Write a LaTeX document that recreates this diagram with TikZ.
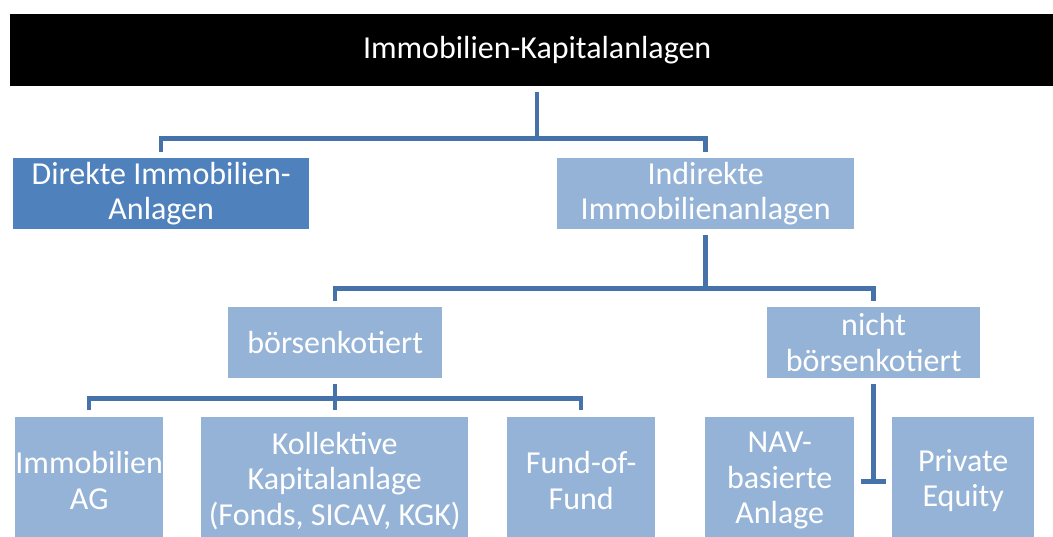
\documentclass[tikz,border=0pt]{standalone}
\usepackage{fontspec}
\setmainfont{Carlito}
\usetikzlibrary{calc}
\definecolor{boxdark}{HTML}{4F81BD}
\definecolor{boxlight}{HTML}{95B3D7}
\definecolor{conncol}{HTML}{4672AA}
\begin{document}
\begin{tikzpicture}[x=1pt,y=1pt,
  box/.style={rectangle, inner sep=0pt, align=center, text=white, anchor=north west,
    font=\fontsize{32}{35.5}\selectfont},
  lightbox/.style={box, fill=boxlight},
  conn/.style={draw=conncol, line width=4.5pt}]
\clip (0,0) rectangle (1053,537);
\fill[white] (0,0) rectangle (1053,537);
% nodes
\node[box, fill=black, minimum width=1054pt, minimum height=72pt] (top) at (10,523) {Immobilien-Kapitalanlagen};
\node[box, fill=boxdark, minimum width=296pt, minimum height=71pt] (direkte) at (13,379) {Direkte Immobilien-\\Anlagen};
\node[lightbox, minimum width=297pt, minimum height=71pt] (indirekte) at (557,379) {Indirekte\\Immobilienanlagen};
\node[lightbox, minimum width=214pt, minimum height=71pt] (boers) at (228,230) {börsenkotiert};
\node[lightbox, minimum width=213pt, minimum height=71pt] (nicht) at (767,230) {nicht\\börsenkotiert};
\node[lightbox, minimum width=148pt, minimum height=127pt] (immo) at (15,120) {Immobilien\\AG};
\node[lightbox, minimum width=267pt, minimum height=127pt] (koll) at (201,120) {Kollektive\\Kapitalanlage\\(Fonds, SICAV, KGK)};
\node[lightbox, minimum width=148pt, minimum height=127pt] (fund) at (507,120) {Fund-of-\\Fund};
\node[lightbox, minimum width=149pt, minimum height=127pt] (nav) at (705,120) {NAV-\\basierte\\Anlage};
\node[lightbox, minimum width=142pt, minimum height=127pt] (pe) at (892,120) {Private\\Equity};
% connectors level 1
\coordinate (bus1) at ([yshift=-52pt]top.south);
\draw[conn] ([yshift=-6pt]top.south) -- (bus1);
\draw[conn] ([yshift=6pt]direkte.north) |- (bus1) -| ([yshift=6pt]indirekte.north);
% level 2
\coordinate (bus2) at ([yshift=-59pt]indirekte.south);
\draw[conn] ([yshift=-6pt]indirekte.south) -- (bus2);
\draw[conn] ([yshift=6pt]boers.north) |- (bus2) -| ([yshift=6pt]nicht.north);
% level 3
\coordinate (bus3) at ([yshift=-20pt]boers.south);
\draw[conn] ([yshift=-6pt]boers.south) -- (bus3);
\draw[conn] ([yshift=7pt]immo.north) |- (bus3) -| ([yshift=7pt]fund.north);
\draw[conn] (bus3) -- ([yshift=7pt]koll.north -| bus3);
% non-listed branch
\coordinate (j) at ([yshift=-103pt]nicht.south);
\draw[conn] ([yshift=-6pt]nicht.south) -- ([yshift=-2pt]j);
\draw[conn] ($(nav.east |- j)+(7,0)$) -- ($(pe.west |- j)+(-6,0)$);
\end{tikzpicture}
\end{document}
